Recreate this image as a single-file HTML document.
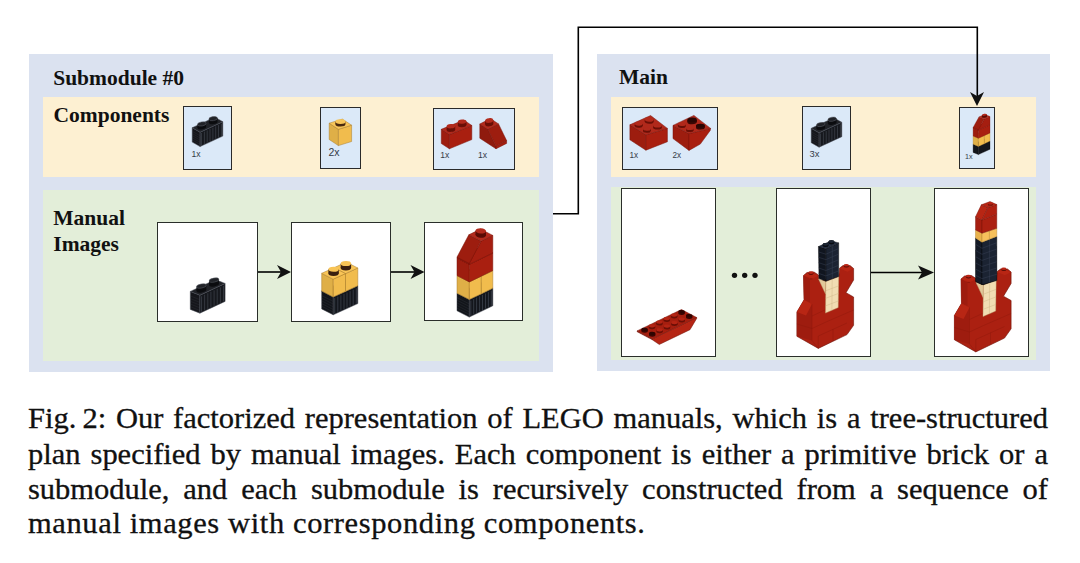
<!DOCTYPE html>
<html><head><meta charset="utf-8">
<style>
html,body{margin:0;padding:0;background:#fff;}
body{width:1080px;height:563px;position:relative;overflow:hidden;font-family:"Liberation Serif",serif;}
.abs{position:absolute;}
.panel{position:absolute;background:#dbe2f0;}
.yel{position:absolute;background:#fdf0d2;}
.grn{position:absolute;background:#e3eed9;}
.comp{position:absolute;background:#dbe9f8;border:1.5px solid #2a2a2a;box-sizing:border-box;}
.man{position:absolute;background:#fff;border:1.6px solid #2a2e2a;box-sizing:border-box;}
.h{position:absolute;font-weight:bold;font-size:21.5px;color:#111;white-space:nowrap;line-height:1;}
.lbl{position:absolute;font-family:"Liberation Sans",sans-serif;font-size:8px;color:#343b46;line-height:1;}
.capw{position:absolute;left:28.3px;width:1020px;transform:scaleX(1.07);transform-origin:0 0;}
.cap{position:absolute;left:0;width:953.3px;font-size:28.5px;color:#111;-webkit-text-stroke:0.3px #111;white-space:nowrap;line-height:1;}
.j{text-align:justify;text-align-last:justify;white-space:normal;}
svg{position:absolute;left:0;top:0;overflow:visible;}
</style></head><body>

<!-- Left panel -->
<div class="panel" style="left:29px;top:54px;width:524px;height:318px;"></div>
<div class="yel" style="left:43px;top:97px;width:496px;height:80px;"></div>
<div class="grn" style="left:43px;top:189.5px;width:496px;height:171px;"></div>
<div class="h" style="left:53.2px;top:67.6px;">Submodule #0</div>
<div class="h" style="left:53.5px;top:104.8px;">Components</div>
<div class="h" style="left:53.3px;top:208.2px;">Manual</div>
<div class="h" style="left:53.3px;top:234px;">Images</div>

<div class="comp" style="left:183px;top:106.2px;width:49.3px;height:63.6px;"></div>
<div class="comp" style="left:320.4px;top:107.2px;width:40.4px;height:61.9px;"></div>
<div class="comp" style="left:433px;top:108.2px;width:81.6px;height:62.2px;"></div>

<div class="man" style="left:157.2px;top:222.2px;width:100.5px;height:99.5px;"></div>
<div class="man" style="left:290.6px;top:222.2px;width:100.3px;height:99.5px;"></div>
<div class="man" style="left:424.2px;top:222.2px;width:99.2px;height:99px;"></div>

<!-- Right panel -->
<div class="panel" style="left:597px;top:54px;width:453px;height:317px;"></div>
<div class="yel" style="left:611px;top:97px;width:425px;height:80px;"></div>
<div class="grn" style="left:611px;top:187px;width:425px;height:173px;"></div>
<div class="h" style="left:619px;top:67.4px;">Main</div>

<div class="comp" style="left:622.3px;top:106.6px;width:95.6px;height:63px;"></div>
<div class="comp" style="left:802.3px;top:106.2px;width:48.8px;height:63.4px;"></div>
<div class="comp" style="left:959.2px;top:107.4px;width:35.6px;height:61.3px;"></div>

<div class="man" style="left:621.4px;top:188.2px;width:94.6px;height:168.8px;"></div>
<div class="man" style="left:775.8px;top:188.2px;width:95.3px;height:168.8px;"></div>
<div class="man" style="left:933.8px;top:188.2px;width:94.8px;height:168.8px;"></div>

<div class="lbl" style="left:191.4px;top:149.5px;font-size:8.6px;">1x</div>
<div class="lbl" style="left:328.5px;top:146.7px;font-size:10.5px;">2x</div>
<div class="lbl" style="left:440.2px;top:150.5px;font-size:8.6px;">1x</div>
<div class="lbl" style="left:477.9px;top:150.5px;font-size:8.6px;">1x</div>
<div class="lbl" style="left:629.5px;top:151.7px;font-size:8.2px;">1x</div>
<div class="lbl" style="left:672.4px;top:151.7px;font-size:8.2px;">2x</div>
<div class="lbl" style="left:809.6px;top:148.9px;font-size:9.4px;">3x</div>
<div class="lbl" style="left:964.9px;top:152.7px;font-size:7.2px;">1x</div>

<!-- connectors and arrows -->
<svg width="1080" height="563" viewBox="0 0 1080 563">
  <g fill="none" stroke="#000" stroke-width="1.6">
    <polyline points="553,213.7 578.3,213.7 578.3,27.2 977.3,27.2 977.3,100"/>
    <line x1="258" y1="272" x2="286" y2="272"/>
    <line x1="391" y1="272" x2="419" y2="272"/>
    <line x1="871" y1="272.5" x2="929" y2="272.5"/>
  </g>
  <g fill="#111">
    <path d="M977,106 L970,92 L977,96 L984,92 Z"/>
    <path d="M291,272 L277,265 L281,272 L277,279 Z"/>
    <path d="M424.5,272 L410.5,265 L414.5,272 L410.5,279 Z"/>
    <path d="M934,272.5 L918,265.5 L922,272.5 L918,279.5 Z"/>
    <circle cx="734.5" cy="275.3" r="2.65"/>
    <circle cx="744.7" cy="275.3" r="2.65"/>
    <circle cx="755" cy="275.3" r="2.65"/>
  </g>
</svg>

<!--LEGO--><svg width="1080" height="563" viewBox="0 0 1080 563"><polygon points="200.1,146.6 192.2,142.1 192.2,127.7 200.1,132.2" fill="#15161b" stroke="#4a4f58" stroke-width="0.5" stroke-linejoin="round"/><polygon points="200.1,146.6 222.8,136.1 222.8,121.7 200.1,132.2" fill="#16181d" stroke="#4a4f58" stroke-width="0.5" stroke-linejoin="round"/><line x1="201.5" y1="145.4" x2="201.5" y2="133.0" stroke="#474c55" stroke-width="0.6"/><line x1="204.4" y1="144.1" x2="204.4" y2="131.7" stroke="#474c55" stroke-width="0.6"/><line x1="207.2" y1="142.7" x2="207.2" y2="130.4" stroke="#474c55" stroke-width="0.6"/><line x1="210.0" y1="141.4" x2="210.0" y2="129.0" stroke="#474c55" stroke-width="0.6"/><line x1="212.9" y1="140.1" x2="212.9" y2="127.7" stroke="#474c55" stroke-width="0.6"/><line x1="215.7" y1="138.8" x2="215.7" y2="126.4" stroke="#474c55" stroke-width="0.6"/><line x1="218.5" y1="137.5" x2="218.5" y2="125.1" stroke="#474c55" stroke-width="0.6"/><line x1="221.4" y1="136.2" x2="221.4" y2="123.8" stroke="#474c55" stroke-width="0.6"/><line x1="200.1" y1="144.4" x2="192.2" y2="139.9" stroke="#474c55" stroke-width="0.4" stroke-opacity="0.5"/><line x1="200.1" y1="142.3" x2="192.2" y2="137.8" stroke="#474c55" stroke-width="0.4" stroke-opacity="0.5"/><line x1="200.1" y1="140.1" x2="192.2" y2="135.6" stroke="#474c55" stroke-width="0.4" stroke-opacity="0.5"/><line x1="200.1" y1="138.0" x2="192.2" y2="133.5" stroke="#474c55" stroke-width="0.4" stroke-opacity="0.5"/><line x1="200.1" y1="135.8" x2="192.2" y2="131.3" stroke="#474c55" stroke-width="0.4" stroke-opacity="0.5"/><polygon points="200.1,132.2 222.8,121.7 214.9,117.2 192.2,127.7" fill="#202227" stroke="#4a4f58" stroke-width="0.5" stroke-linejoin="round"/><ellipse cx="201.8" cy="127.3" rx="4.33" ry="2.05" transform="rotate(170.7 201.8 127.3)" fill="#0b0c0f"/><polygon points="206.1,126.8 206.1,123.3 197.5,124.4 197.5,127.9" fill="#0b0c0f"/><ellipse cx="201.8" cy="123.9" rx="4.33" ry="2.05" transform="rotate(170.7 201.8 123.9)" fill="#202227" stroke="#5a5f68" stroke-width="0.5"/><ellipse cx="213.2" cy="122.1" rx="4.33" ry="2.05" transform="rotate(170.7 213.2 122.1)" fill="#0b0c0f"/><polygon points="217.5,121.5 217.5,118.1 208.9,119.2 208.9,122.6" fill="#0b0c0f"/><ellipse cx="213.2" cy="118.6" rx="4.33" ry="2.05" transform="rotate(170.7 213.2 118.6)" fill="#202227" stroke="#5a5f68" stroke-width="0.5"/><polygon points="338.4,145.6 329.2,139.5 329.2,123.2 338.4,129.3" fill="#dfaf47" stroke="#a87c2c" stroke-width="0.5" stroke-linejoin="round"/><polygon points="338.4,145.6 351.6,141.5 351.6,125.2 338.4,129.3" fill="#f1bc4d" stroke="#a87c2c" stroke-width="0.5" stroke-linejoin="round"/><polygon points="338.4,129.3 351.6,125.2 342.4,119.1 329.2,123.2" fill="#f8c65a" stroke="#a87c2c" stroke-width="0.5" stroke-linejoin="round"/><ellipse cx="340.4" cy="124.2" rx="4.99" ry="2.28" transform="rotate(-179.4 340.4 124.2)" fill="#4a2a10"/><polygon points="345.4,124.2 345.4,121.6 335.4,121.6 335.4,124.2" fill="#4a2a10"/><ellipse cx="340.4" cy="121.6" rx="4.99" ry="2.28" transform="rotate(-179.4 340.4 121.6)" fill="#f8c65a"/><polygon points="449.4,148.8 441.3,143.5 441.3,129.3 449.4,134.6" fill="#9d1d0f" stroke="#7a1208" stroke-width="0.5" stroke-linejoin="round"/><polygon points="449.4,148.8 471.8,139.6 471.8,125.4 449.4,134.6" fill="#a91f10" stroke="#7a1208" stroke-width="0.5" stroke-linejoin="round"/><polygon points="449.4,134.6 471.8,125.4 463.7,120.1 441.3,129.3" fill="#b1291b" stroke="#7a1208" stroke-width="0.5" stroke-linejoin="round"/><ellipse cx="450.9" cy="129.7" rx="4.29" ry="2.16" transform="rotate(176.5 450.9 129.7)" fill="#6a0f06"/><polygon points="455.2,129.5 455.2,126.0 446.7,126.4 446.7,129.8" fill="#6a0f06"/><ellipse cx="450.9" cy="126.2" rx="4.29" ry="2.16" transform="rotate(176.5 450.9 126.2)" fill="#b1291b"/><ellipse cx="462.1" cy="125.0" rx="4.29" ry="2.16" transform="rotate(176.5 462.1 125.0)" fill="#6a0f06"/><polygon points="466.4,124.9 466.4,121.4 457.9,121.8 457.9,125.2" fill="#6a0f06"/><ellipse cx="462.1" cy="121.6" rx="4.29" ry="2.16" transform="rotate(176.5 462.1 121.6)" fill="#b1291b"/><polygon points="496.0,148.8 479.8,138.2 479.8,124.0 487.9,129.3 496.0,146.0" fill="#8f1a0e" stroke="#7a1208" stroke-width="0.5" stroke-linejoin="round"/><polygon points="496.0,148.8 506.6,143.4 506.6,140.6 496.0,146.0" fill="#a51e10" stroke="#7a1208" stroke-width="0.5" stroke-linejoin="round"/><polygon points="496.0,146.0 506.6,140.6 498.5,123.9 487.9,129.3" fill="#9d1d0f" stroke="#7a1208" stroke-width="0.5" stroke-linejoin="round"/><polygon points="487.9,129.3 498.5,123.9 490.4,118.6 479.8,124.0" fill="#b22b1d" stroke="#7a1208" stroke-width="0.5" stroke-linejoin="round"/><ellipse cx="489.2" cy="124.0" rx="4.15" ry="2.31" transform="rotate(173.3 489.2 124.0)" fill="#6a0f06"/><polygon points="493.3,123.6 493.3,120.2 485.0,120.9 485.0,124.3" fill="#6a0f06"/><ellipse cx="489.2" cy="120.5" rx="4.15" ry="2.31" transform="rotate(173.3 489.2 120.5)" fill="#b22b1d"/><polygon points="199.9,313.2 190.3,309.4 190.3,291.4 199.9,295.2" fill="#15161b" stroke="#4a4f58" stroke-width="0.5" stroke-linejoin="round"/><polygon points="199.9,313.2 225.1,301.4 225.1,283.4 199.9,295.2" fill="#16181d" stroke="#4a4f58" stroke-width="0.5" stroke-linejoin="round"/><line x1="201.5" y1="311.7" x2="201.5" y2="296.3" stroke="#474c55" stroke-width="0.6"/><line x1="204.6" y1="310.3" x2="204.6" y2="294.8" stroke="#474c55" stroke-width="0.6"/><line x1="207.8" y1="308.8" x2="207.8" y2="293.3" stroke="#474c55" stroke-width="0.6"/><line x1="210.9" y1="307.3" x2="210.9" y2="291.8" stroke="#474c55" stroke-width="0.6"/><line x1="214.1" y1="305.8" x2="214.1" y2="290.4" stroke="#474c55" stroke-width="0.6"/><line x1="217.2" y1="304.4" x2="217.2" y2="288.9" stroke="#474c55" stroke-width="0.6"/><line x1="220.4" y1="302.9" x2="220.4" y2="287.4" stroke="#474c55" stroke-width="0.6"/><line x1="223.5" y1="301.4" x2="223.5" y2="285.9" stroke="#474c55" stroke-width="0.6"/><line x1="199.9" y1="310.5" x2="190.3" y2="306.7" stroke="#474c55" stroke-width="0.4" stroke-opacity="0.5"/><line x1="199.9" y1="307.8" x2="190.3" y2="304.0" stroke="#474c55" stroke-width="0.4" stroke-opacity="0.5"/><line x1="199.9" y1="305.1" x2="190.3" y2="301.3" stroke="#474c55" stroke-width="0.4" stroke-opacity="0.5"/><line x1="199.9" y1="302.4" x2="190.3" y2="298.6" stroke="#474c55" stroke-width="0.4" stroke-opacity="0.5"/><line x1="199.9" y1="299.7" x2="190.3" y2="295.9" stroke="#474c55" stroke-width="0.4" stroke-opacity="0.5"/><polygon points="199.9,295.2 225.1,283.4 215.5,279.6 190.3,291.4" fill="#202227" stroke="#4a4f58" stroke-width="0.5" stroke-linejoin="round"/><ellipse cx="201.4" cy="290.4" rx="4.98" ry="2.02" transform="rotate(169.7 201.4 290.4)" fill="#0b0c0f"/><polygon points="206.3,289.6 206.3,285.3 196.5,286.8 196.5,291.1" fill="#0b0c0f"/><ellipse cx="201.4" cy="286.0" rx="4.98" ry="2.02" transform="rotate(169.7 201.4 286.0)" fill="#202227" stroke="#5a5f68" stroke-width="0.5"/><ellipse cx="214.0" cy="284.4" rx="4.98" ry="2.02" transform="rotate(169.7 214.0 284.4)" fill="#0b0c0f"/><polygon points="218.9,283.7 218.9,279.4 209.1,280.9 209.1,285.2" fill="#0b0c0f"/><ellipse cx="214.0" cy="280.1" rx="4.98" ry="2.02" transform="rotate(169.7 214.0 280.1)" fill="#202227" stroke="#5a5f68" stroke-width="0.5"/><polygon points="333.2,314.8 321.7,308.9 321.7,291.1 333.2,297.0" fill="#12151a" stroke="#3a3f48" stroke-width="0.5" stroke-linejoin="round"/><polygon points="333.2,314.8 357.8,303.6 357.8,285.8 333.2,297.0" fill="#13161c" stroke="#3a3f48" stroke-width="0.5" stroke-linejoin="round"/><line x1="334.7" y1="313.4" x2="334.7" y2="298.1" stroke="#4a505c" stroke-width="0.6"/><line x1="337.8" y1="312.0" x2="337.8" y2="296.7" stroke="#4a505c" stroke-width="0.6"/><line x1="340.9" y1="310.6" x2="340.9" y2="295.3" stroke="#4a505c" stroke-width="0.6"/><line x1="344.0" y1="309.2" x2="344.0" y2="293.9" stroke="#4a505c" stroke-width="0.6"/><line x1="347.0" y1="307.8" x2="347.0" y2="292.5" stroke="#4a505c" stroke-width="0.6"/><line x1="350.1" y1="306.4" x2="350.1" y2="291.1" stroke="#4a505c" stroke-width="0.6"/><line x1="353.2" y1="305.0" x2="353.2" y2="289.7" stroke="#4a505c" stroke-width="0.6"/><line x1="356.3" y1="303.6" x2="356.3" y2="288.3" stroke="#4a505c" stroke-width="0.6"/><line x1="333.2" y1="312.1" x2="321.7" y2="306.2" stroke="#4a505c" stroke-width="0.4" stroke-opacity="0.5"/><line x1="333.2" y1="309.5" x2="321.7" y2="303.6" stroke="#4a505c" stroke-width="0.4" stroke-opacity="0.5"/><line x1="333.2" y1="306.8" x2="321.7" y2="300.9" stroke="#4a505c" stroke-width="0.4" stroke-opacity="0.5"/><line x1="333.2" y1="304.1" x2="321.7" y2="298.2" stroke="#4a505c" stroke-width="0.4" stroke-opacity="0.5"/><line x1="333.2" y1="301.4" x2="321.7" y2="295.6" stroke="#4a505c" stroke-width="0.4" stroke-opacity="0.5"/><polygon points="333.2,297.0 357.8,285.8 346.3,279.9 321.7,291.1" fill="#1d2026" stroke="#3a3f48" stroke-width="0.5" stroke-linejoin="round"/><polygon points="345.5,291.4 334.0,285.5 334.0,267.7 345.5,273.6" fill="#dfaf47" stroke="#a87c2c" stroke-width="0.5" stroke-linejoin="round"/><polygon points="345.5,291.4 357.8,285.8 357.8,268.0 345.5,273.6" fill="#f1bc4d" stroke="#a87c2c" stroke-width="0.5" stroke-linejoin="round"/><polygon points="345.5,273.6 357.8,268.0 346.3,262.1 334.0,267.7" fill="#f8c456" stroke="#a87c2c" stroke-width="0.5" stroke-linejoin="round"/><ellipse cx="345.9" cy="267.9" rx="5.22" ry="2.52" transform="rotate(179.7 345.9 267.9)" fill="#3a2010"/><polygon points="351.1,267.8 351.1,263.6 340.7,263.6 340.7,267.9" fill="#3a2010"/><ellipse cx="345.9" cy="263.6" rx="5.22" ry="2.52" transform="rotate(179.7 345.9 263.6)" fill="#f8c456"/><polygon points="333.2,297.0 321.7,291.1 321.7,273.3 333.2,279.2" fill="#dfaf47" stroke="#a87c2c" stroke-width="0.5" stroke-linejoin="round"/><polygon points="333.2,297.0 345.5,291.4 345.5,273.6 333.2,279.2" fill="#f1bc4d" stroke="#a87c2c" stroke-width="0.5" stroke-linejoin="round"/><polygon points="333.2,279.2 345.5,273.6 334.0,267.7 321.7,273.3" fill="#f8c456" stroke="#a87c2c" stroke-width="0.5" stroke-linejoin="round"/><ellipse cx="333.6" cy="273.4" rx="5.22" ry="2.52" transform="rotate(179.7 333.6 273.4)" fill="#3a2010"/><polygon points="338.8,273.4 338.8,269.2 328.4,269.2 328.4,273.5" fill="#3a2010"/><ellipse cx="333.6" cy="269.2" rx="5.22" ry="2.52" transform="rotate(179.7 333.6 269.2)" fill="#f8c456"/><polygon points="469.3,317.1 457.0,310.8 457.0,293.2 469.3,299.5" fill="#12151a" stroke="#3a3f48" stroke-width="0.5" stroke-linejoin="round"/><polygon points="469.3,317.1 492.8,305.8 492.8,288.2 469.3,299.5" fill="#13161c" stroke="#3a3f48" stroke-width="0.5" stroke-linejoin="round"/><line x1="470.8" y1="315.7" x2="470.8" y2="300.6" stroke="#4a505c" stroke-width="0.6"/><line x1="473.7" y1="314.3" x2="473.7" y2="299.1" stroke="#4a505c" stroke-width="0.6"/><line x1="476.6" y1="312.9" x2="476.6" y2="297.7" stroke="#4a505c" stroke-width="0.6"/><line x1="479.6" y1="311.5" x2="479.6" y2="296.3" stroke="#4a505c" stroke-width="0.6"/><line x1="482.5" y1="310.0" x2="482.5" y2="294.9" stroke="#4a505c" stroke-width="0.6"/><line x1="485.5" y1="308.6" x2="485.5" y2="293.5" stroke="#4a505c" stroke-width="0.6"/><line x1="488.4" y1="307.2" x2="488.4" y2="292.1" stroke="#4a505c" stroke-width="0.6"/><line x1="491.3" y1="305.8" x2="491.3" y2="290.7" stroke="#4a505c" stroke-width="0.6"/><line x1="469.3" y1="314.5" x2="457.0" y2="308.2" stroke="#4a505c" stroke-width="0.4" stroke-opacity="0.5"/><line x1="469.3" y1="311.8" x2="457.0" y2="305.5" stroke="#4a505c" stroke-width="0.4" stroke-opacity="0.5"/><line x1="469.3" y1="309.2" x2="457.0" y2="302.9" stroke="#4a505c" stroke-width="0.4" stroke-opacity="0.5"/><line x1="469.3" y1="306.5" x2="457.0" y2="300.2" stroke="#4a505c" stroke-width="0.4" stroke-opacity="0.5"/><line x1="469.3" y1="303.9" x2="457.0" y2="297.6" stroke="#4a505c" stroke-width="0.4" stroke-opacity="0.5"/><polygon points="469.3,299.5 492.8,288.2 480.5,281.9 457.0,293.2" fill="#1d2026" stroke="#3a3f48" stroke-width="0.5" stroke-linejoin="round"/><polygon points="481.1,293.9 468.8,287.6 468.8,270.0 481.1,276.3" fill="#dfaf47" stroke="#a87c2c" stroke-width="0.5" stroke-linejoin="round"/><polygon points="481.1,293.9 492.8,288.2 492.8,270.6 481.1,276.3" fill="#f1bc4d" stroke="#a87c2c" stroke-width="0.5" stroke-linejoin="round"/><polygon points="481.1,276.3 492.8,270.6 480.5,264.3 468.8,270.0" fill="#f8c456" stroke="#a87c2c" stroke-width="0.5" stroke-linejoin="round"/><polygon points="469.3,299.5 457.0,293.2 457.0,275.6 469.3,281.9" fill="#dfaf47" stroke="#a87c2c" stroke-width="0.5" stroke-linejoin="round"/><polygon points="469.3,299.5 481.1,293.9 481.1,276.3 469.3,281.9" fill="#f1bc4d" stroke="#a87c2c" stroke-width="0.5" stroke-linejoin="round"/><polygon points="469.3,281.9 481.1,276.3 468.8,270.0 457.0,275.6" fill="#f8c456" stroke="#a87c2c" stroke-width="0.5" stroke-linejoin="round"/><polygon points="469.3,281.9 457.0,275.6 457.0,258.0 469.3,264.3" fill="#9d1d0f" stroke="#7a1208" stroke-width="0.5" stroke-linejoin="round"/><polygon points="469.3,281.9 492.8,270.6 492.8,253.0 469.3,264.3" fill="#a91f10" stroke="#7a1208" stroke-width="0.5" stroke-linejoin="round"/><polygon points="469.3,264.3 492.8,253.0 480.5,246.7 457.0,258.0" fill="#b1291b" stroke="#7a1208" stroke-width="0.5" stroke-linejoin="round"/><polygon points="469.3,264.3 457.0,258.0 457.0,257.1 469.3,263.4" fill="#8f1a0e" stroke="#7a1208" stroke-width="0.5" stroke-linejoin="round"/><polygon points="469.3,264.3 492.8,253.0 492.8,235.4 481.1,241.1 469.3,263.4" fill="#a51e10" stroke="#7a1208" stroke-width="0.5" stroke-linejoin="round"/><polygon points="469.3,263.4 481.1,241.1 468.8,234.8 457.0,257.1" fill="#9d1d0f" stroke="#7a1208" stroke-width="0.5" stroke-linejoin="round"/><polygon points="481.1,241.1 492.8,235.4 480.5,229.1 468.8,234.8" fill="#b22b1d" stroke="#7a1208" stroke-width="0.5" stroke-linejoin="round"/><ellipse cx="480.8" cy="235.1" rx="5.28" ry="2.61" transform="rotate(-177.1 480.8 235.1)" fill="#5a0c05"/><polygon points="486.0,235.3 486.0,231.1 475.5,230.6 475.5,234.9" fill="#5a0c05"/><ellipse cx="480.8" cy="230.9" rx="5.28" ry="2.61" transform="rotate(-177.1 480.8 230.9)" fill="#b22b1d"/><polygon points="629.9,124.8 645.9,134.8 645.9,150.2 629.9,139.8" fill="#9d1d0f" stroke="#7a1208" stroke-width="0.5" stroke-linejoin="round"/><polygon points="645.9,134.8 667.4,128.4 667.4,141.8 645.9,150.2" fill="#a91f10" stroke="#7a1208" stroke-width="0.5" stroke-linejoin="round"/><polygon points="645.9,134.8 667.4,128.4 650.6,115.5 629.9,124.8" fill="#b1291b" stroke="#7a1208" stroke-width="0.5" stroke-linejoin="round"/><ellipse cx="649.2" cy="121.4" rx="4.47" ry="2.43" transform="rotate(-178.9 649.2 121.4)" fill="#6a0f06"/><polygon points="653.6,121.5 653.6,119.5 644.7,119.4 644.7,121.4" fill="#6a0f06"/><ellipse cx="649.2" cy="119.4" rx="4.47" ry="2.43" transform="rotate(-178.9 649.2 119.4)" fill="#b1291b"/><ellipse cx="638.7" cy="125.6" rx="3.97" ry="2.07" transform="rotate(-174.7 638.7 125.6)" fill="#6a0f06"/><polygon points="642.7,125.9 642.7,123.9 634.8,123.4 634.8,125.4" fill="#6a0f06"/><ellipse cx="638.7" cy="123.6" rx="3.97" ry="2.07" transform="rotate(-174.7 638.7 123.6)" fill="#b1291b"/><ellipse cx="657.5" cy="127.4" rx="4.35" ry="2.12" transform="rotate(-179.8 657.5 127.4)" fill="#6a0f06"/><polygon points="661.8,127.5 661.8,125.5 653.1,125.4 653.1,127.4" fill="#6a0f06"/><ellipse cx="657.5" cy="125.4" rx="4.35" ry="2.12" transform="rotate(-179.8 657.5 125.4)" fill="#b1291b"/><ellipse cx="646.8" cy="130.9" rx="3.85" ry="1.84" transform="rotate(-176.3 646.8 130.9)" fill="#6a0f06"/><polygon points="650.7,131.1 650.7,129.1 643.0,128.7 643.0,130.7" fill="#6a0f06"/><ellipse cx="646.8" cy="128.9" rx="3.85" ry="1.84" transform="rotate(-176.3 646.8 128.9)" fill="#b1291b"/><polygon points="673.0,125.4 689.0,133.6 689.0,150.4 673.0,138.6" fill="#9d1d0f" stroke="#7a1208" stroke-width="0.5" stroke-linejoin="round"/><polygon points="689.0,133.6 710.6,128.4 710.2,130.5 700.3,144.1 689.0,150.4" fill="#a91f10" stroke="#7a1208" stroke-width="0.5" stroke-linejoin="round"/><polygon points="689.0,133.6 710.6,128.4 693.9,115.4 673.0,125.4" fill="#b1291b" stroke="#7a1208" stroke-width="0.5" stroke-linejoin="round"/><ellipse cx="692.1" cy="121.9" rx="4.77" ry="2.47" transform="rotate(179.5 692.1 121.9)" fill="#3a0804"/><polygon points="696.9,121.9 696.9,119.9 687.4,120.0 687.4,122.0" fill="#3a0804"/><ellipse cx="692.1" cy="119.9" rx="4.77" ry="2.47" transform="rotate(179.5 692.1 119.9)" fill="#2a0603"/><ellipse cx="681.7" cy="126.1" rx="3.92" ry="1.85" transform="rotate(-174.0 681.7 126.1)" fill="#6a0f06"/><polygon points="685.6,126.4 685.6,124.4 677.8,123.8 677.8,125.8" fill="#6a0f06"/><ellipse cx="681.7" cy="124.1" rx="3.92" ry="1.85" transform="rotate(-174.0 681.7 124.1)" fill="#b1291b"/><ellipse cx="700.4" cy="127.6" rx="4.46" ry="1.90" transform="rotate(178.2 700.4 127.6)" fill="#3a0804"/><polygon points="704.9,127.5 704.9,125.5 696.0,125.7 696.0,127.7" fill="#3a0804"/><ellipse cx="700.4" cy="125.6" rx="4.46" ry="1.90" transform="rotate(178.2 700.4 125.6)" fill="#2a0603"/><ellipse cx="689.8" cy="130.6" rx="3.66" ry="1.49" transform="rotate(-176.8 689.8 130.6)" fill="#6a0f06"/><polygon points="693.5,130.8 693.5,128.8 686.2,128.4 686.2,130.4" fill="#6a0f06"/><ellipse cx="689.8" cy="128.6" rx="3.66" ry="1.49" transform="rotate(-176.8 689.8 128.6)" fill="#b1291b"/><polygon points="819.1,147.2 811.2,142.7 811.2,128.3 819.1,132.8" fill="#15161b" stroke="#4a4f58" stroke-width="0.5" stroke-linejoin="round"/><polygon points="819.1,147.2 841.8,136.7 841.8,122.3 819.1,132.8" fill="#16181d" stroke="#4a4f58" stroke-width="0.5" stroke-linejoin="round"/><line x1="820.5" y1="146.0" x2="820.5" y2="133.6" stroke="#474c55" stroke-width="0.6"/><line x1="823.4" y1="144.7" x2="823.4" y2="132.3" stroke="#474c55" stroke-width="0.6"/><line x1="826.2" y1="143.3" x2="826.2" y2="131.0" stroke="#474c55" stroke-width="0.6"/><line x1="829.0" y1="142.0" x2="829.0" y2="129.6" stroke="#474c55" stroke-width="0.6"/><line x1="831.9" y1="140.7" x2="831.9" y2="128.3" stroke="#474c55" stroke-width="0.6"/><line x1="834.7" y1="139.4" x2="834.7" y2="127.0" stroke="#474c55" stroke-width="0.6"/><line x1="837.5" y1="138.1" x2="837.5" y2="125.7" stroke="#474c55" stroke-width="0.6"/><line x1="840.4" y1="136.8" x2="840.4" y2="124.4" stroke="#474c55" stroke-width="0.6"/><line x1="819.1" y1="145.0" x2="811.2" y2="140.5" stroke="#474c55" stroke-width="0.4" stroke-opacity="0.5"/><line x1="819.1" y1="142.9" x2="811.2" y2="138.4" stroke="#474c55" stroke-width="0.4" stroke-opacity="0.5"/><line x1="819.1" y1="140.7" x2="811.2" y2="136.2" stroke="#474c55" stroke-width="0.4" stroke-opacity="0.5"/><line x1="819.1" y1="138.6" x2="811.2" y2="134.1" stroke="#474c55" stroke-width="0.4" stroke-opacity="0.5"/><line x1="819.1" y1="136.4" x2="811.2" y2="131.9" stroke="#474c55" stroke-width="0.4" stroke-opacity="0.5"/><polygon points="819.1,132.8 841.8,122.3 833.9,117.8 811.2,128.3" fill="#202227" stroke="#4a4f58" stroke-width="0.5" stroke-linejoin="round"/><ellipse cx="820.8" cy="127.9" rx="4.33" ry="2.05" transform="rotate(170.7 820.8 127.9)" fill="#0b0c0f"/><polygon points="825.1,127.4 825.1,123.9 816.5,125.0 816.5,128.5" fill="#0b0c0f"/><ellipse cx="820.8" cy="124.5" rx="4.33" ry="2.05" transform="rotate(170.7 820.8 124.5)" fill="#202227" stroke="#5a5f68" stroke-width="0.5"/><ellipse cx="832.2" cy="122.7" rx="4.33" ry="2.05" transform="rotate(170.7 832.2 122.7)" fill="#0b0c0f"/><polygon points="836.5,122.1 836.5,118.7 827.9,119.8 827.9,123.2" fill="#0b0c0f"/><ellipse cx="832.2" cy="119.2" rx="4.33" ry="2.05" transform="rotate(170.7 832.2 119.2)" fill="#202227" stroke="#5a5f68" stroke-width="0.5"/><polygon points="978.4,154.6 973.1,152.4 973.1,144.2 978.4,146.4" fill="#12151a" stroke="#000" stroke-width="0.3" stroke-linejoin="round"/><polygon points="978.4,154.6 990.0,149.3 990.0,141.1 978.4,146.4" fill="#13161c" stroke="#000" stroke-width="0.3" stroke-linejoin="round"/><polygon points="978.4,146.4 990.0,141.1 984.7,138.9 973.1,144.2" fill="#1d2026" stroke="#000" stroke-width="0.3" stroke-linejoin="round"/><polygon points="984.2,143.8 978.9,141.6 978.9,133.3 984.2,135.5" fill="#dfaf47" stroke="#a87c2c" stroke-width="0.3" stroke-linejoin="round"/><polygon points="984.2,143.8 990.0,141.1 990.0,132.9 984.2,135.5" fill="#f1bc4d" stroke="#a87c2c" stroke-width="0.3" stroke-linejoin="round"/><polygon points="984.2,135.5 990.0,132.9 984.7,130.7 978.9,133.3" fill="#f8c456" stroke="#a87c2c" stroke-width="0.3" stroke-linejoin="round"/><polygon points="978.4,146.4 973.1,144.2 973.1,136.0 978.4,138.2" fill="#dfaf47" stroke="#a87c2c" stroke-width="0.3" stroke-linejoin="round"/><polygon points="978.4,146.4 984.2,143.8 984.2,135.5 978.4,138.2" fill="#f1bc4d" stroke="#a87c2c" stroke-width="0.3" stroke-linejoin="round"/><polygon points="978.4,138.2 984.2,135.5 978.9,133.3 973.1,136.0" fill="#f8c456" stroke="#a87c2c" stroke-width="0.3" stroke-linejoin="round"/><polygon points="978.4,138.2 973.1,136.0 973.1,127.8 978.4,130.0" fill="#9d1d0f" stroke="#7a1208" stroke-width="0.3" stroke-linejoin="round"/><polygon points="978.4,138.2 990.0,132.9 990.0,124.7 978.4,130.0" fill="#a91f10" stroke="#7a1208" stroke-width="0.3" stroke-linejoin="round"/><polygon points="978.4,130.0 990.0,124.7 984.7,122.5 973.1,127.8" fill="#b1291b" stroke="#7a1208" stroke-width="0.3" stroke-linejoin="round"/><polygon points="978.4,130.0 973.1,127.8 973.1,127.4 978.4,129.6" fill="#8f1a0e" stroke="#7a1208" stroke-width="0.3" stroke-linejoin="round"/><polygon points="978.4,130.0 990.0,124.7 990.0,116.5 984.2,119.1 978.4,129.6" fill="#a51e10" stroke="#7a1208" stroke-width="0.3" stroke-linejoin="round"/><polygon points="978.4,129.6 984.2,119.1 978.9,117.0 973.1,127.4" fill="#9d1d0f" stroke="#7a1208" stroke-width="0.3" stroke-linejoin="round"/><polygon points="984.2,119.1 990.0,116.5 984.7,114.3 978.9,117.0" fill="#b22b1d" stroke="#7a1208" stroke-width="0.3" stroke-linejoin="round"/><ellipse cx="984.5" cy="116.7" rx="2.44" ry="1.06" transform="rotate(175.8 984.5 116.7)" fill="#5a0c05"/><polygon points="986.9,116.6 986.9,114.6 982.0,114.9 982.0,116.9" fill="#5a0c05"/><ellipse cx="984.5" cy="114.8" rx="2.44" ry="1.06" transform="rotate(175.8 984.5 114.8)" fill="#b22b1d"/><polygon points="652.3,338.9 696.7,317.5 696.7,318.4 690.0,329.7 659.3,344.5 652.3,339.8" fill="#b52514" stroke="#6e1007" stroke-width="0.5" stroke-linejoin="round"/><polygon points="652.3,338.9 652.3,339.8 637.1,331.8 637.1,330.9" fill="#8e170b" stroke="#6e1007" stroke-width="0.4" stroke-linejoin="round"/><polygon points="652.3,338.9 696.7,317.5 681.5,309.5 637.1,330.9" fill="#a51e0f" stroke="#6e1007" stroke-width="0.5" stroke-linejoin="round"/><ellipse cx="644.6" cy="331.1" rx="3.19" ry="1.60" transform="rotate(-177.2 644.6 331.1)" fill="#3a0603"/><polygon points="647.8,331.2 647.8,329.4 641.4,329.2 641.4,331.0" fill="#3a0603"/><ellipse cx="644.6" cy="329.3" rx="3.19" ry="1.60" transform="rotate(-177.2 644.6 329.3)" fill="#2e0502"/><ellipse cx="652.0" cy="327.6" rx="3.19" ry="1.60" transform="rotate(-177.2 652.0 327.6)" fill="#6a0f06"/><polygon points="655.2,327.7 655.2,325.9 648.8,325.6 648.8,327.4" fill="#6a0f06"/><ellipse cx="652.0" cy="325.8" rx="3.19" ry="1.60" transform="rotate(-177.2 652.0 325.8)" fill="#b42414"/><ellipse cx="659.4" cy="324.0" rx="3.19" ry="1.60" transform="rotate(-177.2 659.4 324.0)" fill="#6a0f06"/><polygon points="662.6,324.1 662.6,322.3 656.2,322.1 656.2,323.9" fill="#6a0f06"/><ellipse cx="659.4" cy="322.2" rx="3.19" ry="1.60" transform="rotate(-177.2 659.4 322.2)" fill="#b42414"/><ellipse cx="666.8" cy="320.4" rx="3.19" ry="1.60" transform="rotate(-177.2 666.8 320.4)" fill="#6a0f06"/><polygon points="670.0,320.6 670.0,318.8 663.6,318.5 663.6,320.3" fill="#6a0f06"/><ellipse cx="666.8" cy="318.6" rx="3.19" ry="1.60" transform="rotate(-177.2 666.8 318.6)" fill="#b42414"/><ellipse cx="674.2" cy="316.9" rx="3.19" ry="1.60" transform="rotate(-177.2 674.2 316.9)" fill="#6a0f06"/><polygon points="677.4,317.0 677.4,315.2 671.0,315.0 671.0,316.8" fill="#6a0f06"/><ellipse cx="674.2" cy="315.1" rx="3.19" ry="1.60" transform="rotate(-177.2 674.2 315.1)" fill="#b42414"/><ellipse cx="681.6" cy="313.3" rx="3.19" ry="1.60" transform="rotate(-177.2 681.6 313.3)" fill="#3a0603"/><polygon points="684.8,313.4 684.8,311.6 678.4,311.4 678.4,313.2" fill="#3a0603"/><ellipse cx="681.6" cy="311.5" rx="3.19" ry="1.60" transform="rotate(-177.2 681.6 311.5)" fill="#2e0502"/><ellipse cx="652.2" cy="335.1" rx="3.19" ry="1.60" transform="rotate(-177.2 652.2 335.1)" fill="#3a0603"/><polygon points="655.4,335.2 655.4,333.4 649.0,333.2 649.0,335.0" fill="#3a0603"/><ellipse cx="652.2" cy="333.3" rx="3.19" ry="1.60" transform="rotate(-177.2 652.2 333.3)" fill="#2e0502"/><ellipse cx="659.6" cy="331.6" rx="3.19" ry="1.60" transform="rotate(-177.2 659.6 331.6)" fill="#6a0f06"/><polygon points="662.8,331.7 662.8,329.9 656.4,329.6 656.4,331.4" fill="#6a0f06"/><ellipse cx="659.6" cy="329.8" rx="3.19" ry="1.60" transform="rotate(-177.2 659.6 329.8)" fill="#b42414"/><ellipse cx="667.0" cy="328.0" rx="3.19" ry="1.60" transform="rotate(-177.2 667.0 328.0)" fill="#6a0f06"/><polygon points="670.2,328.1 670.2,326.3 663.8,326.1 663.8,327.9" fill="#6a0f06"/><ellipse cx="667.0" cy="326.2" rx="3.19" ry="1.60" transform="rotate(-177.2 667.0 326.2)" fill="#b42414"/><ellipse cx="674.4" cy="324.4" rx="3.19" ry="1.60" transform="rotate(-177.2 674.4 324.4)" fill="#6a0f06"/><polygon points="677.6,324.6 677.6,322.8 671.2,322.5 671.2,324.3" fill="#6a0f06"/><ellipse cx="674.4" cy="322.6" rx="3.19" ry="1.60" transform="rotate(-177.2 674.4 322.6)" fill="#b42414"/><ellipse cx="681.8" cy="320.9" rx="3.19" ry="1.60" transform="rotate(-177.2 681.8 320.9)" fill="#6a0f06"/><polygon points="685.0,321.0 685.0,319.2 678.6,319.0 678.6,320.8" fill="#6a0f06"/><ellipse cx="681.8" cy="319.1" rx="3.19" ry="1.60" transform="rotate(-177.2 681.8 319.1)" fill="#b42414"/><ellipse cx="689.2" cy="317.3" rx="3.19" ry="1.60" transform="rotate(-177.2 689.2 317.3)" fill="#3a0603"/><polygon points="692.4,317.4 692.4,315.6 686.0,315.4 686.0,317.2" fill="#3a0603"/><ellipse cx="689.2" cy="315.5" rx="3.19" ry="1.60" transform="rotate(-177.2 689.2 315.5)" fill="#2e0502"/><polygon points="803.5,275.5 807.0,272.5 814.0,272.0 818.5,275.0 819.0,281.0 838.7,277.0 839.7,268.0 843.0,265.5 850.0,265.5 853.6,268.5 853.6,280.0 846.0,292.7 853.6,297.0 853.6,325.3 847.0,334.6 818.3,348.4 796.9,336.3 796.9,312.0 804.0,299.9" fill="#ab2011" stroke="#6e1007" stroke-width="0.6" stroke-linejoin="round"/><polygon points="796.9,312.0 804.0,299.9 812.0,304.0 812.0,340.5 796.9,336.3" fill="#9e1c0f"/><polygon points="803.5,275.5 810.0,279.0 810.0,302.5 804.0,299.9" fill="#9e1c0f"/><polygon points="796.9,312.0 804.0,299.9 812.0,304.0 806.0,315.5" fill="#b82614"/><polygon points="803.5,275.5 809.5,272.3 818.5,275.5 812.5,278.8" fill="#b82614"/><polygon points="839.7,268.5 845.5,265.3 853.6,268.5 847.5,271.8" fill="#b82614"/><polyline points="796.9,324.0 812.0,328.5 826.0,322.0" fill="none" stroke="#8a170b" stroke-width="0.4"/><polyline points="812.0,316.0 826.0,309.5" fill="none" stroke="#8a170b" stroke-width="0.4"/><polyline points="812.0,304.0 812.0,340.5 818.3,348.4" fill="none" stroke="#8a170b" stroke-width="0.4"/><polyline points="826.0,322.0 853.6,310.0" fill="none" stroke="#8a170b" stroke-width="0.4"/><polyline points="818.3,348.4 818.3,336.0 847.0,323.0" fill="none" stroke="#8a170b" stroke-width="0.4"/><polyline points="833.0,329.0 833.0,341.0" fill="none" stroke="#8a170b" stroke-width="0.4"/><polyline points="810.0,279.0 812.5,278.8" fill="none" stroke="#6e1007" stroke-width="0.45"/><ellipse cx="811.0" cy="273.6" rx="2.6" ry="1.3" fill="#5a0c05"/><ellipse cx="811.0" cy="272.6" rx="2.6" ry="1.3" fill="#b82515"/><ellipse cx="846.3" cy="266.2" rx="2.6" ry="1.3" fill="#5a0c05"/><ellipse cx="846.3" cy="265.2" rx="2.6" ry="1.3" fill="#b82515"/><polygon points="818.5,279.0 825.9,281.3 825.5,294.0" fill="#e2c99a" stroke="#b9a070" stroke-width="0.4" stroke-linejoin="round"/><polygon points="825.9,281.3 838.7,276.5 838.2,307.6 825.5,313.1" fill="#f1ddb3" stroke="#b9a070" stroke-width="0.4" stroke-linejoin="round"/><polyline points="825.7,290.8 838.5,285.9" fill="none" stroke="#c9b080" stroke-width="0.4"/><polyline points="825.7,298.3 838.5,293.4" fill="none" stroke="#c9b080" stroke-width="0.4"/><polyline points="825.7,305.8 838.5,300.9" fill="none" stroke="#c9b080" stroke-width="0.4"/><polyline points="832.2,279.0 831.9,310.4" fill="none" stroke="#c9b080" stroke-width="0.4"/><polygon points="818.4,246.6 825.9,248.8 825.9,281.3 819.0,278.6" fill="#10151f" stroke="#000" stroke-width="0.4" stroke-linejoin="round"/><polygon points="825.9,248.8 838.7,242.9 838.7,276.5 825.9,281.3" fill="#1b2332" stroke="#000" stroke-width="0.4" stroke-linejoin="round"/><polygon points="818.4,246.6 831.2,240.8 838.7,242.9 825.9,248.8" fill="#263044" stroke="#000" stroke-width="0.4" stroke-linejoin="round"/><polyline points="818.4,251.9 825.9,254.2 838.7,248.5" fill="none" stroke="#3a4458" stroke-width="0.45"/><polyline points="818.4,257.3 825.9,259.6 838.7,254.1" fill="none" stroke="#3a4458" stroke-width="0.45"/><polyline points="818.4,262.6 825.9,265.1 838.7,259.7" fill="none" stroke="#3a4458" stroke-width="0.45"/><polyline points="818.4,267.9 825.9,270.5 838.7,265.3" fill="none" stroke="#3a4458" stroke-width="0.45"/><polyline points="818.4,273.3 825.9,275.9 838.7,270.9" fill="none" stroke="#3a4458" stroke-width="0.45"/><polyline points="832.3,245.8 832.3,278.9" fill="none" stroke="#3a4458" stroke-width="0.45"/><ellipse cx="831.4" cy="243.0" rx="2.9" ry="1.4" fill="#06090e"/><ellipse cx="831.4" cy="241.6" rx="2.9" ry="1.4" fill="#05080c"/><rect x="828.5" y="241.6" width="5.8" height="1.4" fill="#06090e"/><ellipse cx="831.4" cy="241.6" rx="2.9" ry="1.4" fill="#1d2533"/><ellipse cx="825.6" cy="245.7" rx="2.9" ry="1.4" fill="#06090e"/><ellipse cx="825.6" cy="244.3" rx="2.9" ry="1.4" fill="#05080c"/><rect x="822.7" y="244.3" width="5.8" height="1.4" fill="#06090e"/><ellipse cx="825.6" cy="244.3" rx="2.9" ry="1.4" fill="#1d2533"/><polygon points="961.0,279.0 964.5,276.0 971.5,275.5 976.0,278.5 976.5,284.5 996.2,280.5 997.2,271.5 1000.5,269.0 1007.5,269.0 1011.1,272.0 1011.1,283.5 1003.5,296.2 1011.1,300.5 1011.1,328.8 1004.5,338.1 975.8,351.9 954.4,339.8 954.4,315.5 961.5,303.4" fill="#ab2011" stroke="#6e1007" stroke-width="0.6" stroke-linejoin="round"/><polygon points="954.4,315.5 961.5,303.4 969.5,307.5 969.5,344.0 954.4,339.8" fill="#9e1c0f"/><polygon points="961.0,279.0 967.5,282.5 967.5,306.0 961.5,303.4" fill="#9e1c0f"/><polygon points="954.4,315.5 961.5,303.4 969.5,307.5 963.5,319.0" fill="#b82614"/><polygon points="961.0,279.0 967.0,275.8 976.0,279.0 970.0,282.3" fill="#b82614"/><polygon points="997.2,272.0 1003.0,268.8 1011.1,272.0 1005.0,275.3" fill="#b82614"/><polyline points="954.4,327.5 969.5,332.0 983.5,325.5" fill="none" stroke="#8a170b" stroke-width="0.4"/><polyline points="969.5,319.5 983.5,313.0" fill="none" stroke="#8a170b" stroke-width="0.4"/><polyline points="969.5,307.5 969.5,344.0 975.8,351.9" fill="none" stroke="#8a170b" stroke-width="0.4"/><polyline points="983.5,325.5 1011.1,313.5" fill="none" stroke="#8a170b" stroke-width="0.4"/><polyline points="975.8,351.9 975.8,339.5 1004.5,326.5" fill="none" stroke="#8a170b" stroke-width="0.4"/><polyline points="990.5,332.5 990.5,344.5" fill="none" stroke="#8a170b" stroke-width="0.4"/><polyline points="967.5,282.5 970.0,282.3" fill="none" stroke="#6e1007" stroke-width="0.45"/><ellipse cx="968.5" cy="277.1" rx="2.6" ry="1.3" fill="#5a0c05"/><ellipse cx="968.5" cy="276.1" rx="2.6" ry="1.3" fill="#b82515"/><ellipse cx="1003.8" cy="269.7" rx="2.6" ry="1.3" fill="#5a0c05"/><ellipse cx="1003.8" cy="268.7" rx="2.6" ry="1.3" fill="#b82515"/><polygon points="976.0,282.5 983.4,284.8 983.0,297.5" fill="#e2c99a" stroke="#b9a070" stroke-width="0.4" stroke-linejoin="round"/><polygon points="983.4,284.8 996.2,280.0 995.7,311.1 983.0,316.6" fill="#f1ddb3" stroke="#b9a070" stroke-width="0.4" stroke-linejoin="round"/><polyline points="983.2,294.3 996.0,289.4" fill="none" stroke="#c9b080" stroke-width="0.4"/><polyline points="983.2,301.8 996.0,296.9" fill="none" stroke="#c9b080" stroke-width="0.4"/><polyline points="983.2,309.3 996.0,304.4" fill="none" stroke="#c9b080" stroke-width="0.4"/><polyline points="989.7,282.5 989.4,313.9" fill="none" stroke="#c9b080" stroke-width="0.4"/><polygon points="975.9,250.1 983.4,252.3 983.4,284.8 976.5,282.1" fill="#10151f" stroke="#000" stroke-width="0.4" stroke-linejoin="round"/><polygon points="983.4,252.3 996.2,246.4 996.2,280.0 983.4,284.8" fill="#1b2332" stroke="#000" stroke-width="0.4" stroke-linejoin="round"/><polygon points="975.9,250.1 988.7,244.3 996.2,246.4 983.4,252.3" fill="#263044" stroke="#000" stroke-width="0.4" stroke-linejoin="round"/><polyline points="975.9,255.4 983.4,257.7 996.2,252.0" fill="none" stroke="#3a4458" stroke-width="0.45"/><polyline points="975.9,260.8 983.4,263.1 996.2,257.6" fill="none" stroke="#3a4458" stroke-width="0.45"/><polyline points="975.9,266.1 983.4,268.6 996.2,263.2" fill="none" stroke="#3a4458" stroke-width="0.45"/><polyline points="975.9,271.4 983.4,274.0 996.2,268.8" fill="none" stroke="#3a4458" stroke-width="0.45"/><polyline points="975.9,276.8 983.4,279.4 996.2,274.4" fill="none" stroke="#3a4458" stroke-width="0.45"/><polyline points="989.8,249.3 989.8,282.4" fill="none" stroke="#3a4458" stroke-width="0.45"/><ellipse cx="988.9" cy="246.5" rx="2.9" ry="1.4" fill="#06090e"/><ellipse cx="988.9" cy="245.1" rx="2.9" ry="1.4" fill="#05080c"/><rect x="986.0" y="245.1" width="5.8" height="1.4" fill="#06090e"/><ellipse cx="988.9" cy="245.1" rx="2.9" ry="1.4" fill="#1d2533"/><ellipse cx="983.1" cy="249.2" rx="2.9" ry="1.4" fill="#06090e"/><ellipse cx="983.1" cy="247.8" rx="2.9" ry="1.4" fill="#05080c"/><rect x="980.2" y="247.8" width="5.8" height="1.4" fill="#06090e"/><ellipse cx="983.1" cy="247.8" rx="2.9" ry="1.4" fill="#1d2533"/><polygon points="975.5,238.0 982.0,242.2 982.0,284.7 975.5,281.4" fill="#141a26" stroke="#000" stroke-width="0.4"/><polygon points="982.0,242.2 996.8,236.4 996.8,280.6 982.0,284.7" fill="#1b2332" stroke="#000" stroke-width="0.4"/><polyline points="975.5,244.2 982.0,248.3 996.8,242.7" fill="none" stroke="#3a4458" stroke-width="0.45"/><polyline points="975.5,250.4 982.0,254.3 996.8,249.0" fill="none" stroke="#3a4458" stroke-width="0.45"/><polyline points="975.5,256.6 982.0,260.4 996.8,255.3" fill="none" stroke="#3a4458" stroke-width="0.45"/><polyline points="975.5,262.8 982.0,266.5 996.8,261.7" fill="none" stroke="#3a4458" stroke-width="0.45"/><polyline points="975.5,269.0 982.0,272.6 996.8,268.0" fill="none" stroke="#3a4458" stroke-width="0.45"/><polyline points="975.5,275.2 982.0,278.6 996.8,274.3" fill="none" stroke="#3a4458" stroke-width="0.45"/><polyline points="989.4,239.3 989.4,282.6" fill="none" stroke="#3a4458" stroke-width="0.45"/><polygon points="975.5,229.9 982.0,233.2 982.0,242.2 975.5,238.0" fill="#e9b24c" stroke="#a87c2c" stroke-width="0.4"/><polygon points="982.0,233.2 996.8,228.3 996.8,236.4 982.0,242.2" fill="#f6c05c" stroke="#a87c2c" stroke-width="0.4"/><polyline points="989.4,230.8 989.4,239.3" fill="none" stroke="#a87c2c" stroke-width="0.4"/><polygon points="975.5,216.8 982.0,220.0 982.0,233.2 975.5,229.9" fill="#a61e10" stroke="#6e1007" stroke-width="0.4"/><polygon points="982.0,220.0 996.8,214.0 996.8,228.3 982.0,233.2" fill="#ab2011" stroke="#6e1007" stroke-width="0.4"/><polygon points="975.5,216.8 981.3,204.8 988.0,207.5 982.0,220.0" fill="#b82614" stroke="#6e1007" stroke-width="0.4"/><polygon points="982.0,220.0 988.0,207.5 996.8,204.5 996.8,214.0" fill="#b02010" stroke="#6e1007" stroke-width="0.4"/><polygon points="981.3,204.8 990.0,201.5 996.8,204.5 988.0,207.5" fill="#b82614" stroke="#6e1007" stroke-width="0.4"/><ellipse cx="990.3" cy="204.4" rx="2.5" ry="1.2" fill="#5a0c05"/><ellipse cx="990.3" cy="203.5" rx="2.5" ry="1.2" fill="#b82515"/></svg><!--/LEGO-->
<!-- Caption -->
<div class="capw" style="top:405px;"><div class="cap j" style="letter-spacing:0px;">Fig.&#8201;2: Our factorized representation of LEGO manuals, which is a tree-structured</div></div>
<div class="capw" style="top:440.7px;"><div class="cap j" style="letter-spacing:0px;">plan specified by manual images. Each component is either a primitive brick or a</div></div>
<div class="capw" style="top:475.6px;"><div class="cap j" style="letter-spacing:0px;">submodule, and each submodule is recursively constructed from a sequence of</div></div>
<div class="capw" style="top:510.4px;"><div class="cap" style="letter-spacing:0.58px;">manual images with corresponding components.</div></div>

</body></html>
